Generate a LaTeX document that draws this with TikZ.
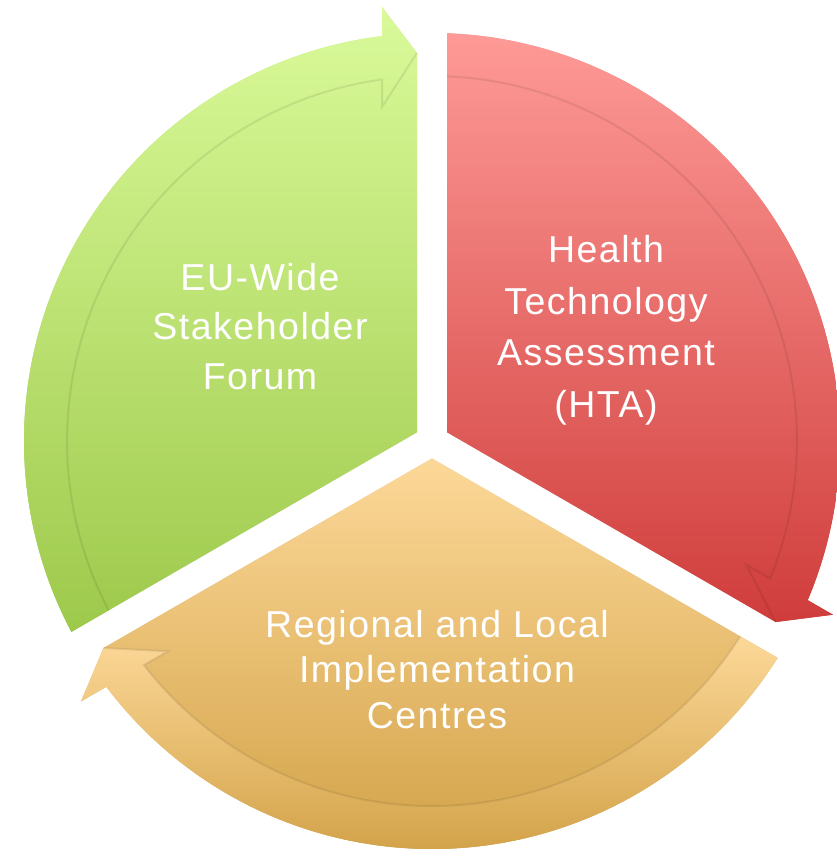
\documentclass[tikz,border=0pt]{standalone}
\usepackage{fontspec}
\newfontfamily\cyclefont[LetterSpace=4]{Liberation Sans}
\usetikzlibrary{calc}
\definecolor{greentop}{HTML}{DAFA9A}
\definecolor{greenbot}{HTML}{9DC94B}
\definecolor{redtop}{HTML}{FE9A97}
\definecolor{redbot}{HTML}{CF3D3B}
\definecolor{orangetop}{HTML}{FCD898}
\definecolor{orangebot}{HTML}{D2A248}
\tikzstyle{arrowshadow} = [fill=black,opacity=0.12]
\tikzstyle{bandedge} = [draw=black,draw opacity=0.08,line width=2pt]
\tikzstyle{cyclelabel} = [text=white,align=center,anchor=north,inner sep=0pt]

\begin{document}
\begin{tikzpicture}[x=1pt,y=1pt]
    \useasboundingbox (0,0) rectangle (836,-860);
    \coordinate (C) at (432,-441);
    \def\Rout{408} \def\Rin{365}

    % First we draw the three curved arrows
    \foreach \h/\ctop/\cbot in {90/greentop/greenbot, -30/redtop/redbot, 210/orangetop/orangebot}
    {
        \pgfmathsetmacro{\tail}{\h+120}
        \def\outline{($(C)+(\h:388)+(\h+90:15)$) -- ($(C)+(\h+60:17.32)$)
            -- ($(C)+(\tail-2.11:\Rout)$)
            arc[start angle=\tail-2.11, end angle=\h+7.04, radius=\Rout]
            -- ($(C)+(\h:434)+(\h+90:50)$) -- cycle}
        \fill[arrowshadow] [shift={(2,-3)}] \outline;
        \path[top color=\ctop, bottom color=\cbot] \outline;
        % the outer band with its head
        \path[top color=\ctop, bottom color=\cbot]
            ($(C)+(\tail-2.36:\Rin)$) -- ($(C)+(\tail-2.11:\Rout)$)
            arc[start angle=\tail-2.11, end angle=\h+7.04, radius=\Rout]
            -- ($(C)+(\h:434)+(\h+90:50)$) -- ($(C)+(\h:388)+(\h+90:15)$) coordinate (tip)
            -- ($(C)+(\h:334)+(\h+90:50)$) coordinate (barb)
            -- ($(C)+(\h+7.87:\Rin)$)
            arc[start angle=\h+7.87, end angle=\tail-2.36, radius=\Rin] -- cycle;
        \draw[bandedge] ($(C)+(\tail-2.36:\Rin)$)
            arc[start angle=\tail-2.36, end angle=\h+7.87, radius=\Rin] -- (barb) -- (tip);
    }

    % Then the labels
    \node[cyclelabel, font=\cyclefont\fontsize{37.5}{49.5}\selectfont] (forum) at (260,-263)
        {EU-Wide\\Stakeholder\\Forum};
    \node[cyclelabel, font=\cyclefont\fontsize{37.5}{51.7}\selectfont] (hta) at (606,-235)
        {Health\\Technology\\Assessment\\(HTA)};
    \node[cyclelabel, font=\cyclefont\fontsize{37.5}{45.5}\selectfont] (centres) at (437,-610)
        {Regional and Local\\Implementation\\Centres};
\end{tikzpicture}
\end{document}
